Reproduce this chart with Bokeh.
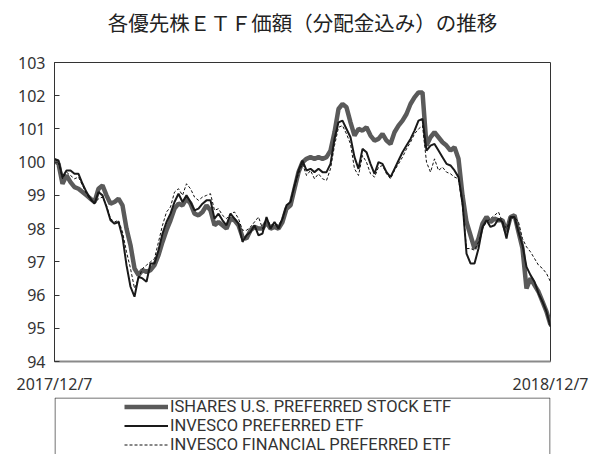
from bokeh.plotting import figure
from bokeh.layouts import column
from bokeh.models import Legend, LegendItem, FixedTicker, BoxAnnotation, Range1d
from bokeh.embed import file_html
from bokeh.resources import INLINE

title_text = "各優先株ＥＴＦ価額（分配金込み）の推移"
series_names = ["ISHARES U.S. PREFERRED STOCK ETF", "INVESCO PREFERRED ETF", "INVESCO FINANCIAL PREFERRED ETF"]
x_tick_labels = ["2017/12/7", "2018/12/7"]
y_ticks = [94, 95, 96, 97, 98, 99, 100, 101, 102, 103]

# approximate values (roughly every two trading days)
ishares_pff = [
    100.05, 99.95, 99.35, 99.6, 99.4, 99.25, 99.2, 99.1, 99.0, 98.9,
    98.8, 99.2, 99.3, 99.0, 98.75, 98.8, 98.9, 98.7, 98.0, 97.5,
    96.8, 96.6, 96.75, 96.7, 96.75, 96.9, 97.2, 97.6, 97.95, 98.25,
    98.6, 98.75, 98.7, 98.9, 98.75, 98.45, 98.4, 98.5, 98.7, 98.55,
    98.1, 98.2, 98.1, 98.0, 98.3, 98.25, 98.1, 97.75, 97.7, 97.95,
    98.05, 98.0, 98.0, 98.2, 98.0, 98.05, 98.0, 98.2, 98.6, 98.7,
    99.2, 99.7, 100.0, 100.1, 100.15, 100.1, 100.15, 100.1, 100.15, 100.35,
    100.9, 101.6, 101.75, 101.65, 101.2, 100.8, 101.0, 100.95, 101.05, 100.8,
    100.65, 100.7, 100.85, 100.65, 100.55, 100.9, 101.1, 101.25, 101.45, 101.75,
    101.95, 102.1, 102.1, 100.5, 100.75, 100.9, 100.75, 100.6, 100.5, 100.35,
    100.45, 100.1, 99.0, 98.2, 97.8, 97.4, 97.7, 98.15, 98.35, 98.2,
    98.3, 98.25, 98.25, 97.9, 98.35, 98.4, 97.9, 97.4, 96.2, 96.5,
    96.3, 96.1, 95.8, 95.5, 95.1,
]
invesco_pgx = [
    100.1, 100.05, 99.55, 99.75, 99.75, 99.65, 99.65, 99.35, 99.1, 98.9,
    98.75, 99.1, 99.0, 98.65, 98.25, 98.15, 98.2, 97.75, 96.9, 96.25,
    95.95, 96.55, 96.5, 96.4, 96.95, 96.95, 97.35, 97.85, 98.2, 98.45,
    98.8, 99.05, 98.8, 99.0, 98.8, 98.55, 98.6, 98.75, 98.85, 98.85,
    98.3, 98.45, 98.25, 98.1, 98.45, 98.3, 98.15, 97.6, 97.8, 97.9,
    98.1, 97.8, 97.85, 98.35, 98.0, 98.2, 98.0, 98.3, 98.7, 98.8,
    99.3, 99.75, 100.05, 99.75, 99.8, 99.7, 99.8, 99.7, 99.7, 99.95,
    100.7, 101.2, 101.25, 101.0, 100.75, 100.15, 99.8, 100.4, 100.3, 99.95,
    99.65, 100.0, 99.95, 99.7, 99.55, 99.8, 100.05, 100.3, 100.5, 100.7,
    100.95, 101.25, 101.3, 100.35, 100.5, 100.55, 100.35, 100.15, 99.95, 99.9,
    99.75, 99.55, 98.8, 97.25, 96.95, 96.95, 97.4, 98.05, 98.25, 98.05,
    98.1, 98.3, 98.2, 97.7, 98.35, 98.35, 97.9, 97.5, 96.85, 96.6,
    96.4, 96.05, 95.8, 95.5, 95.05,
]
invesco_pgf = [
    100.1, 100.0, 99.5, 99.7, 99.6, 99.5, 99.55, 99.3, 99.05, 98.85,
    98.75, 98.9, 98.95, 98.7, 98.3, 98.2, 98.25, 97.9, 97.3, 96.8,
    96.2, 96.5, 96.8, 96.9, 97.0, 97.1, 97.6, 98.1, 98.5, 98.65,
    99.1, 99.2, 99.0, 99.35, 99.2, 98.95, 98.85, 98.95, 99.0, 99.05,
    98.55, 98.6, 98.4, 98.3, 98.45, 98.5, 98.3, 97.95, 97.95, 98.05,
    98.2, 98.35, 98.0, 98.3, 98.1, 98.15, 98.1, 98.3, 98.7, 98.8,
    99.25, 99.65, 99.95, 99.6, 99.75, 99.5, 99.65, 99.5, 99.45, 99.8,
    100.5, 101.05, 101.1, 100.85, 100.55, 99.8, 99.6, 100.2, 100.0, 99.65,
    99.55, 99.85, 99.9, 99.65, 99.5, 99.75, 99.95, 100.15, 100.4, 100.6,
    100.85, 101.0, 101.1, 100.0, 99.7, 100.1, 99.75, 99.85, 99.7, 99.65,
    99.55, 99.5, 98.7, 97.4, 97.4, 97.35, 97.6, 98.0, 98.2, 98.3,
    98.4, 98.5, 98.2, 98.0, 98.3, 98.35, 98.2, 97.7, 97.45, 97.3,
    97.1, 96.9, 96.8, 96.65, 96.4,
]

days = list(range(len(ishares_pff)))
series = [ishares_pff, invesco_pgx, invesco_pgf]

styles = [
    dict(line_color="#5a5a5a", line_width=4.5),
    dict(line_color="#1a1a1a", line_width=2),
    dict(line_color="#111111", line_width=1, line_dash="3 2"),
]

def blank_strip(h):
    f = figure(width=595, height=h, output_backend="svg", toolbar_location=None,
               x_range=Range1d(0, 1), y_range=Range1d(0, 1),
               x_axis_location=None, y_axis_location=None,
               min_border_left=54, min_border_right=45, min_border_top=0, min_border_bottom=0)
    f.xgrid.visible = False
    f.ygrid.visible = False
    f.outline_line_color = None
    f.background_fill_color = "white"
    f.border_fill_color = "white"
    return f

# ---------------- title strip ----------------
t = blank_strip(46)
t.title.text = title_text
t.title.align = "center"
t.title.text_font = "Noto Sans CJK JP"
t.title.text_font_size = "20.5px"
t.title.text_font_style = "normal"
t.title.text_color = "#222222"
t.title.standoff = 20

# ---------------- main chart ----------------
p = figure(width=595, height=351, output_backend="svg", toolbar_location=None,
           x_range=(days[0], days[-1]), y_range=(y_ticks[0], y_ticks[-1]),
           min_border_left=54, min_border_right=45, min_border_top=16, min_border_bottom=35)

p.xgrid.visible = False
p.ygrid.visible = False
p.outline_line_color = "#333333"
p.outline_line_width = 1
p.background_fill_color = "white"
p.border_fill_color = "white"

for vals, st in zip(series, styles):
    p.line(days, vals, **st)

p.yaxis.ticker = FixedTicker(ticks=y_ticks)
p.yaxis.minor_tick_line_color = None
p.yaxis.major_tick_in = 5
p.yaxis.major_tick_out = 0
p.yaxis.major_tick_line_color = "#333333"
p.yaxis.axis_line_color = "#333333"
p.yaxis.major_label_text_font = "Noto Sans"
p.yaxis.major_label_text_font_size = "16px"
p.yaxis.major_label_text_color = "#333333"
p.yaxis.major_label_standoff = 9

p.xaxis.ticker = FixedTicker(ticks=[days[0], days[-1]])
p.xaxis.major_label_overrides = {days[0]: x_tick_labels[0], days[-1]: x_tick_labels[1]}
p.xaxis.minor_tick_line_color = None
p.xaxis.major_tick_line_color = None
p.xaxis.axis_line_color = "#8a8a8a"
p.xaxis.axis_line_width = 2
p.xaxis.major_label_text_font = "Noto Sans"
p.xaxis.major_label_text_font_size = "16px"
p.xaxis.major_label_text_color = "#333333"
p.xaxis.major_label_standoff = 5

# ---------------- legend strip ----------------
q = blank_strip(57)
# legend proxies: same series, lying outside this strip's (0..1) ranges, so only their legend glyphs show
proxies = [q.line(days, vals, **st) for vals, st in zip(series, styles)]

box = BoxAnnotation(left=0.5, right=495.5, top=56.5, bottom=-30,
                    left_units="screen", right_units="screen", top_units="screen", bottom_units="screen",
                    fill_alpha=0, line_color="#444444", line_alpha=1, line_width=1)
q.add_layout(box)

legend = Legend(items=[LegendItem(label=n, renderers=[r]) for n, r in zip(series_names, proxies)],
                location=(70, 0), orientation="vertical",
                border_line_color=None, background_fill_alpha=0,
                padding=0, margin=0, spacing=0,
                glyph_width=44, glyph_height=19, label_height=19, label_standoff=2,
                label_text_font="Roboto", label_text_font_size="16.5px", label_text_color="#333333")
q.add_layout(legend, "center")

layout = column(t, p, q, spacing=0)
open("out.html", "w").write(file_html(layout, INLINE))
